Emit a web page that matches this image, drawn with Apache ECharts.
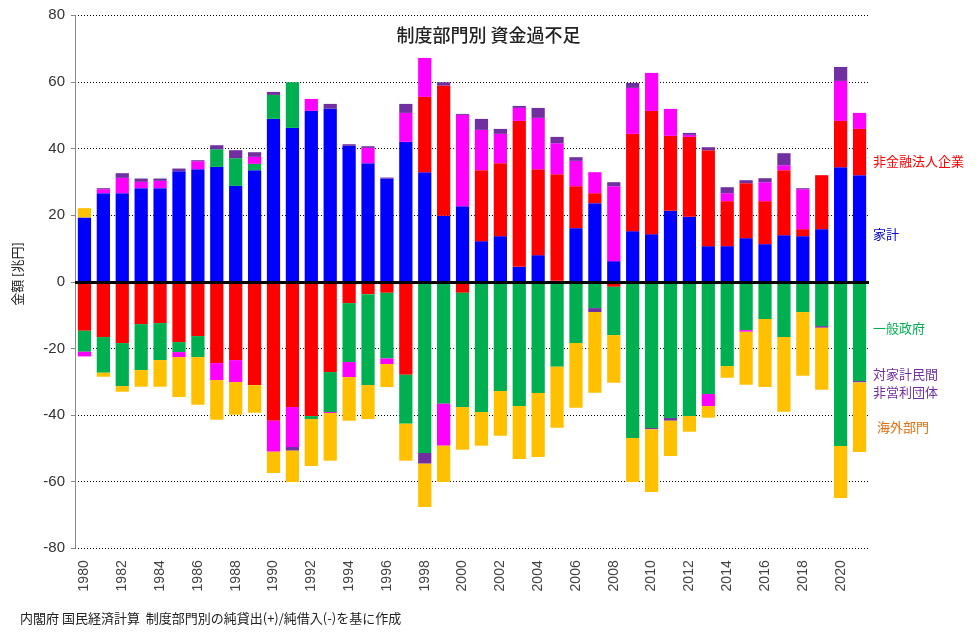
<!DOCTYPE html>
<html>
<head>
<meta charset="utf-8">
<script src="https://cdn.jsdelivr.net/npm/echarts@6/dist/echarts.min.js"></script>
<style>html,body{margin:0;padding:0;background:#fff;}#c{width:977px;height:639px;}</style>
</head>
<body>
<div id="c"></div>
<script>
const years = [];
for (let y = 1980; y <= 2021; y++) years.push(String(y));

const household = [19.3,26.6,26.6,28.1,28.1,33.2,33.8,34.5,28.8,33.5,48.9,46.2,51.3,52.0,40.8,35.6,31.0,42.0,32.9,19.8,22.7,12.2,13.7,4.5,8.0,0.3,16.1,23.6,6.2,15.2,14.3,21.3,19.5,10.7,10.7,13.1,11.3,14.0,13.7,15.8,34.4,32.0];
const nonfinCorp = [-14.7,-16.6,-18.4,-12.7,-12.4,-18.1,-16.3,-24.4,-23.5,-31.0,-41.7,-37.6,-40.3,-27.1,-6.4,-3.7,-3.3,-27.9,22.6,39.1,-3.3,21.3,21.9,43.8,25.8,32.0,12.6,3.0,-1.5,29.2,37.0,22.5,24.0,28.8,13.5,16.5,12.9,19.5,2.1,16.2,13.9,13.9];
const government = [-6.3,-10.7,-12.9,-13.8,-11.1,-3.0,-6.3,5.3,8.3,1.9,7.2,13.7,-0.9,-12.0,-17.7,-27.3,-19.7,-14.7,-51.4,-36.6,-34.3,-39.1,-32.8,-37.3,-33.4,-25.5,-18.4,-7.9,-14.5,-46.9,-43.9,-40.9,-40.3,-33.7,-25.3,-14.5,-11.2,-16.6,-9.1,-13.3,-49.3,-29.8];
const financial = [-1.4,1.2,4.6,1.9,2.2,-1.5,2.4,-5.1,-6.6,2.1,-9.3,-12.0,3.6,-0.3,-4.5,4.6,-1.7,8.7,11.7,-12.6,27.4,12.1,8.8,3.9,15.4,9.3,7.6,6.3,22.5,13.8,11.4,8.1,0.6,-3.6,2.4,-0.5,5.7,1.5,12.0,0,12.0,4.8];
const npish = [0,0.3,1.4,1.0,0.7,0.8,0.3,1.2,2.4,1.4,0.9,-1.1,0,1.4,0.5,0.5,0.3,2.7,-3.2,1.0,0.3,3.3,1.5,0.6,3.0,1.9,1.1,-1.2,1.2,1.5,-0.4,-0.8,0.6,0.9,1.8,0.9,1.2,3.6,0.3,-0.5,4.2,-0.4];
const restOfWorld = [2.8,-1.2,-1.7,-5.0,-8.0,-12.0,-14.3,-11.9,-9.8,-8.3,-6.4,-9.4,-14.1,-14.3,-13.1,-10.2,-6.9,-11.1,-13.0,-10.9,-12.8,-10.1,-13.4,-15.9,-19.2,-18.3,-19.4,-24.2,-14.3,-13.2,-18.8,-10.6,-4.7,-3.5,-3.5,-15.9,-20.4,-22.4,-19.1,-18.6,-15.6,-20.9];

const seriesDefs = [
  {name:'家計', data:household, color:'#0000FF'},
  {name:'非金融法人企業', data:nonfinCorp, color:'#FF0000'},
  {name:'一般政府', data:government, color:'#00B050'},
  {name:'金融機関', data:financial, color:'#FF00FF'},
  {name:'対家計民間非営利団体', data:npish, color:'#7030A0'},
  {name:'海外部門', data:restOfWorld, color:'#FFC000'}
];

const chart = echarts.init(document.getElementById('c'), null, {renderer:'canvas'});
const jp = '"Noto Sans CJK JP", "Noto Sans", sans-serif';
const num = '"Liberation Sans", Arial, sans-serif';

const series = seriesDefs.map(s => ({
  name: s.name, type: 'bar', stack: 'total', stackStrategy: 'samesign',
  data: s.data, barCategoryGap: '30%',
  itemStyle: {color: s.color}
}));
series[series.length - 1].markLine = {
  silent: true, symbol: 'none', animation: false,
  label: {show: false},
  lineStyle: {color: '#000', width: 3, type: 'solid'},
  data: [{yAxis: 0}]
};

const option = {
  animation: false,
  backgroundColor: '#ffffff',
  grid: {left: 75, right: 108, top: 15.3, bottom: 90.7, containLabel: false},
  xAxis: {
    type: 'category', data: years, position: 'bottom',
    axisLine: {show: false, onZero: false}, axisTick: {show: false},
    axisLabel: {interval: 1, rotate: 90, fontFamily: num, fontSize: 14, color: '#444', margin: 12}
  },
  yAxis: {
    type: 'value', min: -80, max: 80, interval: 20,
    axisLine: {show: true, lineStyle: {color: '#888', width: 1}},
    axisTick: {show: true, length: 4, lineStyle: {color: '#888'}},
    axisLabel: {fontFamily: num, fontSize: 15, color: '#333', margin: 10},
    splitLine: {show: true, lineStyle: {color: '#000', type: [1, 2], width: 1}}
  },
  series: series,
  graphic: [
    {type:'text', left:'center', top: 26, style:{text:'制度部門別 資金過不足', font:'500 18px ' + jp, fill:'#222'}},
    {type:'text', x: 17, y: 274, rotation: Math.PI/2, style:{text:'金額 [兆円]', font:'13px ' + jp, fill:'#222', textAlign:'center', textVerticalAlign:'middle'}},
    {type:'text', x: 873, y: 161, style:{text:'非金融法人企業', font:'13px ' + jp, fill:'#FF0000', textVerticalAlign:'middle'}},
    {type:'text', x: 873, y: 234, style:{text:'家計', font:'13px ' + jp, fill:'#0000CC', textVerticalAlign:'middle'}},
    {type:'text', x: 873, y: 328, style:{text:'一般政府', font:'13px ' + jp, fill:'#00B050', textVerticalAlign:'middle'}},
    {type:'text', x: 873, y: 374, style:{text:'対家計民間', font:'13px ' + jp, fill:'#7030A0', textVerticalAlign:'middle'}},
    {type:'text', x: 873, y: 392, style:{text:'非営利団体', font:'13px ' + jp, fill:'#7030A0', textVerticalAlign:'middle'}},
    {type:'text', x: 877, y: 427, style:{text:'海外部門', font:'13px ' + jp, fill:'#E46C0A', textVerticalAlign:'middle'}},
    {type:'text', x: 20, y: 618, style:{text:'内閣府 国民経済計算  制度部門別の純貸出(+)/純借入(-)を基に作成', font:'13px ' + jp, fill:'#222', textVerticalAlign:'middle'}}
  ]
};
chart.setOption(option);
</script>
</body>
</html>
